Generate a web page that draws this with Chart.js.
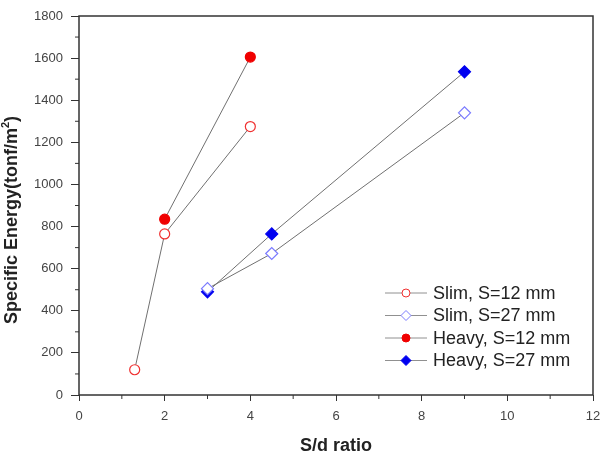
<!DOCTYPE html>
<html>
<head>
<meta charset="utf-8">
<script src="https://cdn.jsdelivr.net/npm/chart.js@4/dist/chart.umd.min.js"></script>
<style>
  html, body { margin: 0; padding: 0; background: #fff; }
  #wrap { width: 601px; height: 453px; }
</style>
</head>
<body>
<div id="wrap"><canvas id="c"></canvas></div>
<script>
// データ（S/d ratio と比エネルギー）
const slim12X = [1.3, 2, 4];
const slim12Y = [120, 765, 1275];
const slim27X = [3, 4.5, 9];
const slim27Y = [505, 672, 1340];
const heavy12X = [2, 4];
const heavy12Y = [835, 1605];
const heavy27X = [3, 4.5, 9];
const heavy27Y = [490, 765, 1535];

const seriesLabels = ["Slim, S=12 mm", "Slim, S=27 mm", "Heavy, S=12 mm", "Heavy, S=27 mm"];
const xTitle = "S/d ratio";
// 縦軸タイトル（m の後ろの 2 は上付きで描く）
const yTitleMain = "Specific Energy(tonf/m";
const yTitleSup = "2";
const yTitleEnd = ")";

const FONT = "'Liberation Sans', Arial, sans-serif";

function pts(xs, ys) {
  return xs.map((x, i) => ({ x: x, y: ys[i] }));
}

function makeSet(label, xs, ys, style, stroke, fill) {
  return {
    label: label,
    data: pts(xs, ys),
    showLine: true,
    borderColor: "#707070",
    borderWidth: 1,
    pointStyle: style,
    pointRadius: style === "rectRot" ? 6 : 5,
    pointBorderColor: stroke,
    pointBackgroundColor: fill,
    pointBorderWidth: 1.2
  };
}

// 枠線・副目盛り・凡例・縦軸タイトルを描くプラグイン
const framePlugin = {
  id: "frame",
  afterDraw(chart) {
    const { ctx, chartArea: a, scales: { x, y } } = chart;
    ctx.save();
    ctx.strokeStyle = "#333";
    ctx.lineWidth = 1.5;
    ctx.strokeRect(a.left, a.top, a.right - a.left, a.bottom - a.top);

    // 副目盛り
    ctx.lineWidth = 1;
    ctx.beginPath();
    for (let v = 1; v < 12; v += 2) {
      const px = x.getPixelForValue(v);
      ctx.moveTo(px, a.bottom);
      ctx.lineTo(px, a.bottom + 4);
    }
    for (let v = 100; v < 1800; v += 200) {
      const py = y.getPixelForValue(v);
      ctx.moveTo(a.left, py);
      ctx.lineTo(a.left - 4, py);
    }
    ctx.stroke();

    // 凡例（プロット内右下）
    const lx = a.left + 306;
    let ly = a.top + 277;
    chart.data.datasets.forEach((ds) => {
      ctx.strokeStyle = "#909090";
      ctx.lineWidth = 1;
      ctx.beginPath();
      ctx.moveTo(lx, ly);
      ctx.lineTo(lx + 42, ly);
      ctx.stroke();
      ctx.strokeStyle = ds.pointBorderColor;
      ctx.fillStyle = ds.pointBackgroundColor;
      ctx.lineWidth = 1;
      Chart.helpers.drawPoint(ctx, {
        pointStyle: ds.pointStyle,
        radius: ds.pointStyle === "rectRot" ? 5 : 4,
        rotation: 0,
        borderWidth: 1
      }, lx + 21, ly);
      ctx.fillStyle = "#222";
      ctx.font = "18px " + FONT;
      ctx.textBaseline = "middle";
      ctx.textAlign = "left";
      ctx.fillText(ds.label, lx + 48, ly + 1);
      ly += 22.5;
    });

    // 縦軸タイトル
    ctx.translate(12, 220);
    ctx.rotate(-Math.PI / 2);
    ctx.fillStyle = "#222";
    ctx.textBaseline = "middle";
    ctx.textAlign = "left";
    const big = "bold 18px " + FONT;
    const small = "bold 11px " + FONT;
    ctx.font = big;
    const w1 = ctx.measureText(yTitleMain).width;
    const w3 = ctx.measureText(yTitleEnd).width;
    ctx.font = small;
    const w2 = ctx.measureText(yTitleSup).width;
    let tx = -(w1 + w2 + w3) / 2;
    ctx.font = big;
    ctx.fillText(yTitleMain, tx, 0);
    tx += w1;
    ctx.font = small;
    ctx.fillText(yTitleSup, tx, -6);
    tx += w2;
    ctx.font = big;
    ctx.fillText(yTitleEnd, tx, 0);
    ctx.restore();
  }
};

new Chart(document.getElementById("c"), {
  type: "scatter",
  data: {
    datasets: [
      makeSet(seriesLabels[0], slim12X, slim12Y, "circle", "#f03030", "#ffffff"),
      makeSet(seriesLabels[1], slim27X, slim27Y, "rectRot", "#7a7aff", "#ffffff"),
      makeSet(seriesLabels[2], heavy12X, heavy12Y, "circle", "#f00000", "#f00000"),
      makeSet(seriesLabels[3], heavy27X, heavy27Y, "rectRot", "#0000f0", "#0000f0")
    ]
  },
  options: {
    responsive: true,
    maintainAspectRatio: false,
    animation: false,
    layout: { padding: { top: 16, right: 8, left: 0, bottom: 0 } },
    plugins: {
      legend: { display: false },
      tooltip: { enabled: false }
    },
    scales: {
      x: {
        type: "linear",
        min: 0,
        max: 12,
        ticks: {
          stepSize: 2,
          color: "#444",
          font: { family: FONT, size: 13 },
          padding: 8,
          callback: (v) => String(v)
        },
        grid: { drawOnChartArea: false, tickLength: 6, color: "#333", tickColor: "#333" },
        border: { display: false },
        title: {
          display: true,
          text: xTitle,
          color: "#222",
          font: { family: FONT, size: 18, weight: "bold" },
          padding: { top: 10, bottom: -4 }
        },
        afterFit(scale) {
          scale.height = 58;
          scale.paddingLeft = 0;
          scale.paddingRight = 0;
        }
      },
      y: {
        min: 0,
        max: 1800,
        ticks: {
          stepSize: 200,
          color: "#444",
          font: { family: FONT, size: 13 },
          padding: 8,
          callback: (v) => String(v)
        },
        grid: { drawOnChartArea: false, tickLength: 8, color: "#333", tickColor: "#333" },
        border: { display: false },
        afterFit(scale) {
          scale.width = 79;
          scale.paddingTop = 0;
          scale.paddingBottom = 0;
        }
      }
    }
  },
  plugins: [framePlugin]
});
</script>
</body>
</html>
